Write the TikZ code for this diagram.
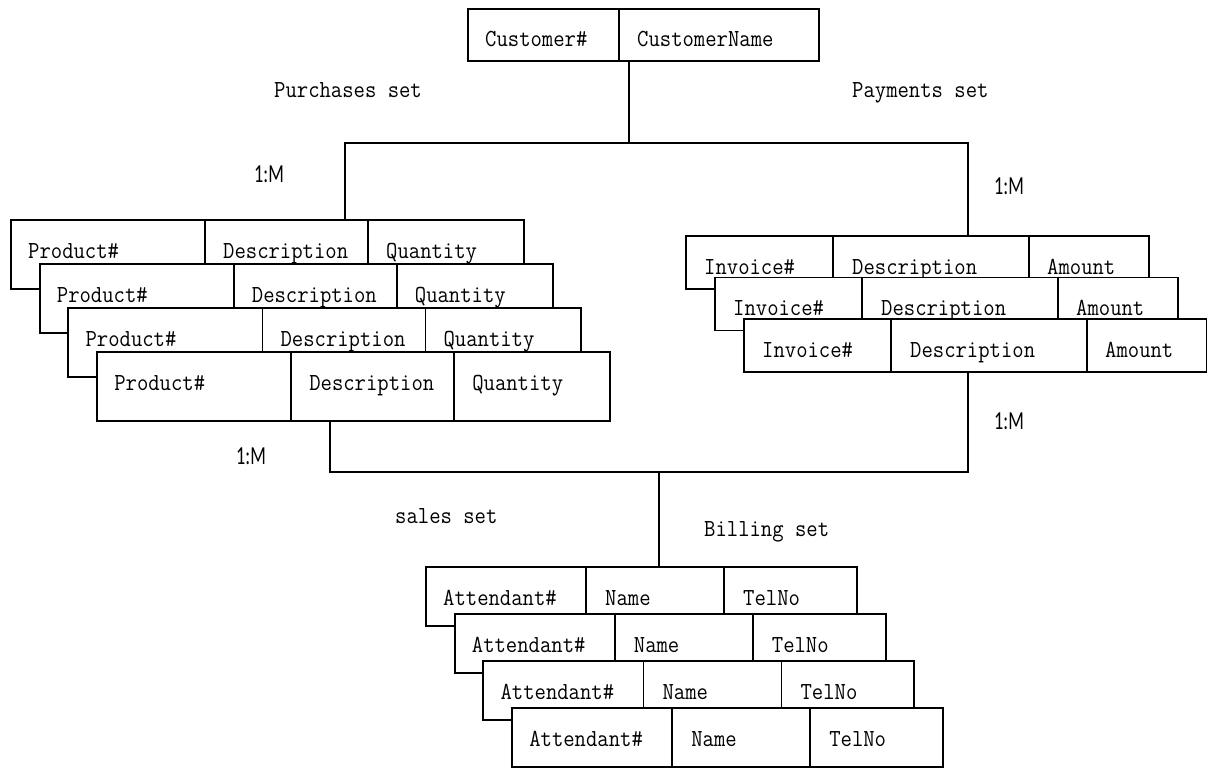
\documentclass[tikz,border=0pt]{standalone}
\usepackage{fontspec}
\newfontfamily\recfont[FakeStretch=0.9]{Latin Modern Mono}
\newfontfamily\cardfont[FakeStretch=0.7]{Carlito}
\begin{document}
\begin{tikzpicture}[x=1pt,y=-1pt]
\tikzset{
  rec/.style={draw, fill=white, line width=1.8pt, inner sep=0pt, anchor=north west},
  fld/.style={font=\recfont\fontsize{24.5}{24.5}\selectfont, anchor=base west, inner sep=0pt},
  card/.style={font=\cardfont\fontsize{26}{26}\selectfont, anchor=base west, inner sep=0pt},
  conn/.style={line width=1.6pt},
  divl/.style={line width=1.8pt},
}
\useasboundingbox (0,0) rectangle (1207,768);

% Customer record
\node[rec, minimum width=351pt, minimum height=52pt] (cust) at (467,8) {};
\draw[divl] (cust.north -| 619,0) -- (cust.south -| 619,0);
\node[fld] (custno) at (485,47) {Customer\#};
\node[fld] (custname) at (637,47) {CustomerName};

% Product records
\foreach \i in {0,...,3}{
  \pgfmathsetmacro\xx{10+28.7*\i}
  \pgfmathsetmacro\yy{219+44*\i}
  \node[rec, minimum width=513pt, minimum height=69pt] (p\i) at (\xx,\yy) {};
  \draw[divl] (p\i.north -| \xx+195,0) -- (p\i.south -| \xx+195,0);
  \draw[divl] (p\i.north -| \xx+358,0) -- (p\i.south -| \xx+358,0);
  \node[fld] (pa\i) at (\xx+18,\yy+39) {Product\#};
  \node[fld] (pb\i) at (\xx+213,\yy+39) {Description};
  \node[fld] (pc\i) at (\xx+376,\yy+39) {Quantity};
}

% Invoice records
\foreach \i in {0,...,2}{
  \pgfmathsetmacro\xx{685+29*\i}
  \pgfmathsetmacro\yy{235+41.5*\i}
  \node[rec, minimum width=463pt, minimum height=53pt] (inv\i) at (\xx,\yy) {};
  \draw[divl] (inv\i.north -| \xx+148,0) -- (inv\i.south -| \xx+148,0);
  \draw[divl] (inv\i.north -| \xx+344,0) -- (inv\i.south -| \xx+344,0);
  \node[fld] (ia\i) at (\xx+19,\yy+39) {Invoice\#};
  \node[fld] (ib\i) at (\xx+167,\yy+39) {Description};
  \node[fld] (ic\i) at (\xx+362,\yy+39) {Amount};
}

% Attendant records
\foreach \i in {0,...,3}{
  \pgfmathsetmacro\xx{425+28.7*\i}
  \pgfmathsetmacro\yy{566+47*\i}
  \node[rec, minimum width=431pt, minimum height=59pt] (att\i) at (\xx,\yy) {};
  \draw[divl] (att\i.north -| \xx+161,0) -- (att\i.south -| \xx+161,0);
  \draw[divl] (att\i.north -| \xx+299,0) -- (att\i.south -| \xx+299,0);
  \node[fld] (aa\i) at (\xx+18,\yy+39) {Attendant\#};
  \node[fld] (ab\i) at (\xx+180,\yy+39) {Name};
  \node[fld] (ac\i) at (\xx+318,\yy+39) {TelNo};
}

% Connectors
\coordinate (jtop) at (629,143);
\coordinate (jl) at (345,143);
\coordinate (jr) at (968,143);
\draw[conn] (cust.south -| jtop) -- (jtop);
\draw[conn] (p0.north -| jl) -- (jl) -- (jr) -- (inv0.north -| jr);

\coordinate (bl) at (330,472);
\coordinate (br) at (968,472);
\coordinate (bc) at (659,472);
\draw[conn] (p3.south -| bl) -- (bl) -- (br) -- (inv2.south -| br);
\draw[conn] (bc) -- (att0.north -| bc);

% Set labels
\node[fld] (purch) at (274,97) {Purchases set};
\node[fld] (paym) at (852,97) {Payments set};
\node[fld] (sales) at (395,523) {sales set};
\node[fld] (bill) at (704,536) {Billing set};

% Cardinalities
\node[card] (c1) at (254,182) {1:M};
\node[card] (c2) at (994,194) {1:M};
\node[card] (c3) at (994,429) {1:M};
\node[card] (c4) at (236,464) {1:M};
\end{tikzpicture}
\end{document}
